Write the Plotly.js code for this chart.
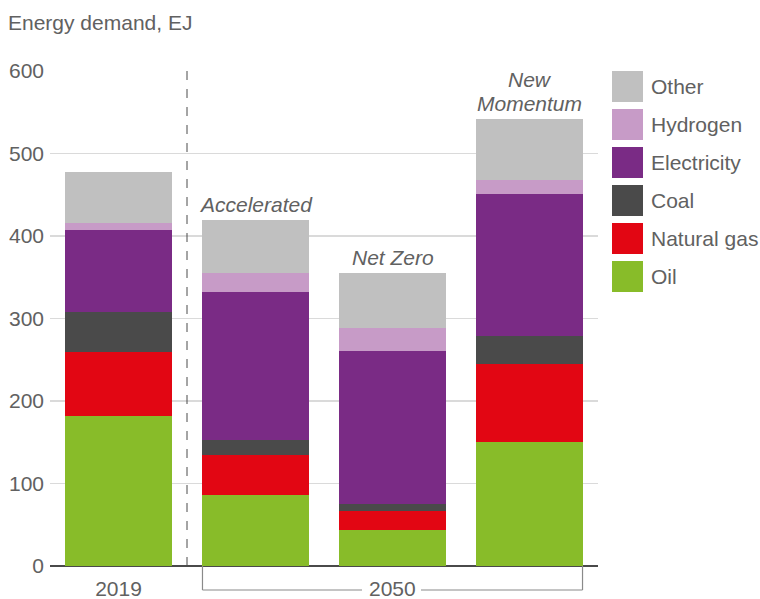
<!DOCTYPE html>
<html>
<head>
<meta charset="utf-8">
<script src="https://cdn.plot.ly/plotly-3.0.1.min.js"></script>
<style>html,body{margin:0;padding:0;background:#fff;}#chart{width:760px;height:599px;}</style>
</head>
<body>
<div id="chart"></div>
<script>
// ---- data ----
const categories = ['2019', 'Accelerated', 'Net Zero', 'New Momentum'];
const scenarioLabels = [[], ['Accelerated'], ['Net Zero'], ['New', 'Momentum']];
const oil         = [181.5, 85.7, 43.3, 149.9];
const naturalGas  = [77.9, 48.5, 23.0, 94.9];
const coal        = [49.0, 18.5, 9.3, 34.5];
const electricity = [98.9, 179.1, 184.6, 171.2];
const hydrogen    = [8.1, 23.0, 27.9, 17.0];
const other       = [61.8, 64.2, 66.7, 73.9];
const seriesNames = ['Oil', 'Natural gas', 'Coal', 'Electricity', 'Hydrogen', 'Other'];
const seriesColors = ['#88bc29', '#e20613', '#4a4a4a', '#7a2b85', '#c79bc7', '#c0c0c0'];
const yTicks = [0, 100, 200, 300, 400, 500, 600];
const groupLabel = '2050';
const yTitle = 'Energy demand, EJ';

const seriesValues = [oil, naturalGas, coal, electricity, hydrogen, other];

const textColor = '#616161';
const fontFam = '"Liberation Sans", Arial, sans-serif';
const FS = 21;

const traces = seriesNames.map((name, i) => ({
  type: 'bar',
  name: name,
  x: categories,
  y: seriesValues[i],
  marker: {color: seriesColors[i], line: {width: 0}},
  hoverinfo: 'x+y+name'
}));

// plot geometry helpers (pixels -> paper)
const L = 50, R = 598, T = 71, B = 566;
const px = v => (v - L) / (R - L);
const py = v => (B - v) / (B - T);

const shapes = [];
const annotations = [];

// dashed separator between 2019 and 2050 scenarios
shapes.push({type: 'line', xref: 'x', yref: 'y', x0: 0.5, x1: 0.5, y0: 0, y1: 600,
  line: {color: '#4a4a4a', width: 1, dash: 'dash'}});

// 2050 bracket
const bw = 0.774;
const catPaper = c => (c + 0.5) / categories.length;
const bl = catPaper(1 - bw / 2), br = catPaper(3 + bw / 2);
const by = py(590);
const gapL = px(362), gapR = px(421);
const bracketLine = {color: '#8a8a8a', width: 1.2};
shapes.push({type: 'line', xref: 'paper', yref: 'paper', x0: bl, x1: bl, y0: 0, y1: by, line: bracketLine});
shapes.push({type: 'line', xref: 'paper', yref: 'paper', x0: br, x1: br, y0: 0, y1: by, line: bracketLine});
shapes.push({type: 'line', xref: 'paper', yref: 'paper', x0: bl, x1: gapL, y0: by, y1: by, line: bracketLine});
shapes.push({type: 'line', xref: 'paper', yref: 'paper', x0: gapR, x1: br, y0: by, y1: by, line: bracketLine});
annotations.push({xref: 'paper', yref: 'paper', x: catPaper(2), y: py(588.5), text: groupLabel,
  showarrow: false, xanchor: 'center', yanchor: 'middle', borderpad: 0,
  font: {family: fontFam, size: FS, color: textColor}});

// scenario labels above bars
categories.forEach((c, i) => {
  const lines = scenarioLabels[i];
  if (!lines.length) return;
  const total = seriesValues.reduce((s, arr) => s + arr[i], 0);
  lines.forEach((ln, j) => {
    const fromBottom = lines.length - 1 - j;
    annotations.push({x: c, y: total, xref: 'x', yref: 'y', text: '<i>' + ln + '</i>',
      showarrow: false, yanchor: 'bottom', xanchor: 'center', yshift: 2 + fromBottom * 24,
      font: {family: fontFam, size: FS, color: textColor}});
  });
});

// y axis title
annotations.push({xref: 'paper', yref: 'paper', x: px(6), y: py(22), xanchor: 'left', yanchor: 'middle',
  text: yTitle, showarrow: false, font: {family: fontFam, size: FS, color: textColor}});

// custom legend (top = last series)
for (let k = 0; k < seriesNames.length; k++) {
  const idx = seriesNames.length - 1 - k;
  const top = 71 + k * 38;
  shapes.push({type: 'rect', xref: 'paper', yref: 'paper', x0: px(612), x1: px(643),
    y0: py(top + 31), y1: py(top), fillcolor: seriesColors[idx], line: {width: 0}});
  annotations.push({xref: 'paper', yref: 'paper', x: px(649), y: py(top + 15.5), xanchor: 'left', yanchor: 'middle',
    text: seriesNames[idx], showarrow: false, font: {family: fontFam, size: FS, color: textColor}});
}

const layout = {
  width: 760, height: 599,
  margin: {l: L, r: 760 - R, t: T, b: 599 - B, pad: 0},
  barmode: 'stack',
  bargap: 0.226,
  showlegend: false,
  paper_bgcolor: '#fff', plot_bgcolor: '#fff',
  font: {family: fontFam, color: textColor},
  xaxis: {
    type: 'category', range: [-0.5, 3.5], fixedrange: true,
    tickvals: [categories[0]], ticktext: [categories[0]],
    showgrid: false, showline: false, zeroline: false, ticks: '',
    ticklabelstandoff: 8,
    tickfont: {family: fontFam, size: FS, color: textColor}
  },
  yaxis: {
    range: [0, 600], tickvals: yTicks, fixedrange: true,
    showgrid: true, gridcolor: '#dadada', gridwidth: 1.5,
    zeroline: true, zerolinecolor: '#4a4a4a', zerolinewidth: 2,
    showline: false, ticks: '', ticklabelstandoff: 5,
    tickfont: {family: fontFam, size: FS, color: textColor}
  },
  shapes: shapes,
  annotations: annotations
};

Plotly.newPlot('chart', traces, layout, {displayModeBar: false, staticPlot: true});
</script>
</body>
</html>
